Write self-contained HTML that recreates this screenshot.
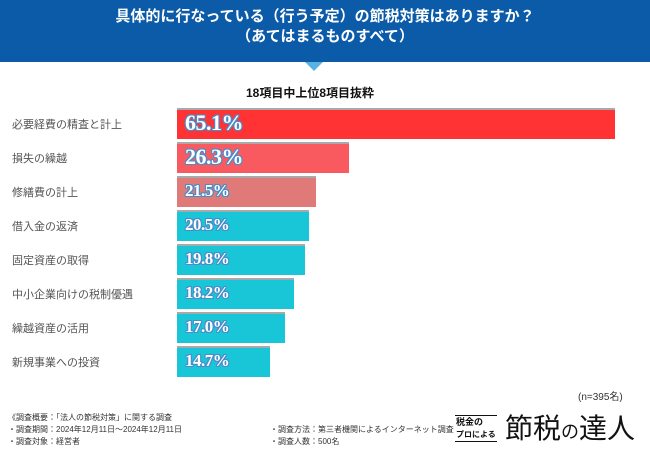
<!DOCTYPE html>
<html><head><meta charset="utf-8"><style>
body{margin:0;width:650px;height:450px;background:#fff;font-family:"Liberation Sans","Noto Sans CJK JP",sans-serif;overflow:hidden;position:relative}
.abs{position:absolute}
.lbl{position:absolute;left:12px;font-size:11px;color:#555;white-space:nowrap}
.bar{position:absolute;border-top:2px solid #a9a9a9;box-sizing:border-box}
.val{position:absolute;font-family:"Liberation Serif","DejaVu Serif",serif;font-weight:bold;color:#fff;letter-spacing:-0.5px;
text-shadow:1px 0 0 #4a8cc8,-1px 0 0 #4a8cc8,0 1px 0 #4a8cc8,0 -1px 0 #4a8cc8,1px 1px 0 #4a8cc8,-1px -1px 0 #4a8cc8,1px -1px 0 #4a8cc8,-1px 1px 0 #4a8cc8}
.note{font-size:8px;color:#333;white-space:nowrap}
</style></head><body>
<div class="abs" style="left:0;top:0;width:650px;height:62px;background:#0b5ba8"></div>
<div class="abs" style="left:0;top:7px;width:650px;text-align:center;color:#fff;font-size:15px;font-weight:bold;line-height:20px">具体的に行なっている（行う予定）の節税対策はありますか？<br>（あてはまるものすべて）</div>
<div class="abs" style="left:305px;top:62px;width:0;height:0;border-left:9px solid transparent;border-right:9px solid transparent;border-top:9px solid #5ab2e2"></div>
<div class="abs" style="left:190px;top:84px;width:240px;text-align:center;font-size:12px;font-weight:bold;color:#111">18項目中上位8項目抜粋</div>
<div id="chart"></div>
<div class="abs" style="left:578px;top:388px;font-size:10px;color:#333">(n=395名)</div>
<div class="abs note" style="left:8px;top:412px;line-height:12px">《調査概要：「法人の節税対策」に関する調査<br>・調査期間：2024年12月11日～2024年12月11日<br>・調査対象：経営者</div>
<div class="abs note" style="left:270px;top:424px;line-height:12px">・調査方法：第三者機関によるインターネット調査<br>・調査人数：500名</div>
<div class="abs" style="left:455px;top:412px;width:190px;height:34px">
<div class="abs" style="left:0;top:3px;font-size:9px;line-height:12px;font-weight:bold;color:#111;border-top:1px solid #111;border-bottom:1px solid #111;white-space:nowrap;padding:0 1px">税金の<br><span style="font-size:8px">プロによる</span></div>
<div class="abs" style="left:50px;top:0;font-size:28px;line-height:34px;color:#111;white-space:nowrap">節税<span style="font-size:18px">の</span>達人</div>
</div>
<script>
const categories=["必要経費の精査と計上","損失の繰越","修繕費の計上","借入金の返済","固定資産の取得","中小企業向けの税制優遇","繰越資産の活用","新規事業への投資"];
const values=[65.1,26.3,21.5,20.5,19.8,18.2,17.0,14.7];
const colors=["#ff3333","#f95a5f","#e07a78","#18c6d8","#18c6d8","#18c6d8","#18c6d8","#18c6d8"];
const x0=177,pxPer=6.85,pxOff=-8,y0=108,step=34,bh=31;
function xs(v){return v*pxPer+pxOff;}
function ys(i){return y0+i*step;}
const c=document.getElementById('chart');
categories.forEach((cat,i)=>{
 const l=document.createElement('div');l.className='lbl';l.textContent=cat;
 l.style.top=(ys(i)+bh/2-8)+'px';
 
 
 c.appendChild(l);
 const b=document.createElement('div');b.className='bar';
 b.style.left=x0+'px';b.style.top=ys(i)+'px';b.style.width=xs(values[i])+'px';b.style.height=bh+'px';b.style.background=colors[i];
 
 
 c.appendChild(b);
 const v=document.createElement('div');v.className='val';v.textContent=values[i].toFixed(1)+'%';
 const fs=i<2?22:17;v.style.fontSize=fs+'px';v.style.left=(x0+8)+'px';v.style.top=(ys(i)+bh/2-fs*0.6)+'px';
 
 
 c.appendChild(v);
});
</script>
</body></html>
